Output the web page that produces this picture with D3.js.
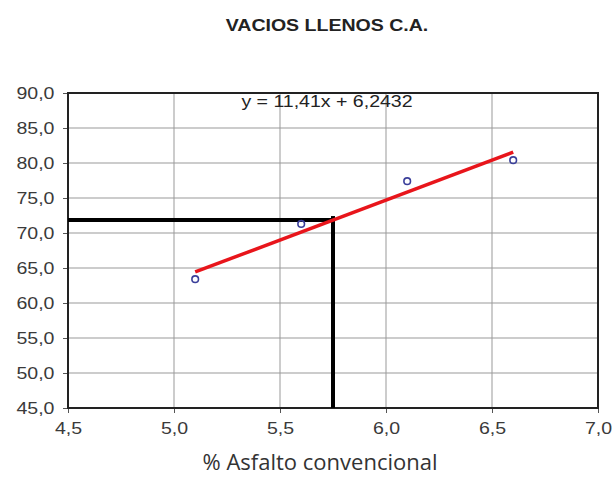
<!DOCTYPE html>
<html><head><meta charset="utf-8">
<script src="https://cdn.jsdelivr.net/npm/d3@7"></script>
<style>body{margin:0;background:#fff}
.sx{transform-box:fill-box;transform-origin:center;transform:scaleX(1.15)}
</style>
</head><body>
<svg id="c" width="615" height="478"></svg>
<script>
const xValues = [5.1, 5.6, 6.1, 6.6];
const yValues = [63.4, 71.3, 77.4, 80.4];
const slope = 11.41, intercept = 6.2432;
const targetX = 5.75;
const xTicks = [4.5, 5.0, 5.5, 6.0, 6.5, 7.0];
const yTicks = [45, 50, 55, 60, 65, 70, 75, 80, 85, 90];
const title = "VACIOS LLENOS C.A.";
const xTitle = "% Asfalto convencional";
const eqLabel = "y = 11,41x + 6,2432";

const svg = d3.select("#c");
const m = {l:68, r:598, t:93, b:408};
const x = d3.scaleLinear().domain([4.5, 7.0]).range([m.l, m.r]);
const y = d3.scaleLinear().domain([45, 90]).range([m.b, m.t]);
const fmt = v => d3.format(".1f")(v).replace(".", ",");
const FONT = "Liberation Sans, Arial, sans-serif";

// grid
svg.append("g").selectAll("line").data(yTicks).join("line")
  .attr("x1", m.l).attr("x2", m.r).attr("y1", d=>y(d)).attr("y2", d=>y(d))
  .attr("stroke", "#999").attr("stroke-width", 1);
svg.append("g").selectAll("line").data(xTicks).join("line")
  .attr("y1", m.t).attr("y2", m.b).attr("x1", d=>x(d)).attr("x2", d=>x(d))
  .attr("stroke", "#999").attr("stroke-width", 1);

// axes
const xa = svg.append("g").attr("transform", `translate(0,${m.b})`)
  .call(d3.axisBottom(x).tickValues(xTicks).tickFormat(fmt).tickSize(5).tickPadding(9));
const ya = svg.append("g").attr("transform", `translate(${m.l},0)`)
  .call(d3.axisLeft(y).tickValues(yTicks).tickFormat(fmt).tickSize(5).tickPadding(11));
[xa, ya].forEach(a => {
  a.select(".domain").remove();
  a.selectAll("text").attr("font-family", FONT)
    .attr("font-size", 17).attr("fill", "#3a3a3a").attr("class", "sx");
  a.selectAll("line").attr("stroke", "#555");
});
ya.selectAll("text").attr("dy", "0.35em");

// border
svg.append("rect").attr("x", m.l).attr("y", m.t).attr("width", m.r-m.l).attr("height", m.b-m.t)
  .attr("fill", "none").attr("stroke", "#222").attr("stroke-width", 2);

// target lines
const ty = slope*targetX + intercept;
svg.append("line").attr("x1", x(4.5)).attr("x2", x(targetX)).attr("y1", y(ty)).attr("y2", y(ty))
  .attr("stroke", "#000").attr("stroke-width", 4);
svg.append("line").attr("x1", x(targetX)).attr("x2", x(targetX)).attr("y1", y(ty)-4).attr("y2", y(45))
  .attr("stroke", "#000").attr("stroke-width", 4);

// regression line
const xr = d3.extent(xValues);
svg.append("line")
  .attr("x1", x(xr[0])).attr("y1", y(slope*xr[0]+intercept))
  .attr("x2", x(xr[1])).attr("y2", y(slope*xr[1]+intercept))
  .attr("stroke", "#e8151b").attr("stroke-width", 3.5);

// points
svg.append("g").selectAll("circle").data(xValues).join("circle")
  .attr("cx", d=>x(d)).attr("cy", (d,i)=>y(yValues[i])).attr("r", 3.3)
  .attr("fill", "none").attr("stroke", "#3b3f9a").attr("stroke-width", 1.6);

// texts
svg.append("text").attr("x", 327).attr("y", 107).attr("text-anchor", "middle").attr("class", "sx")
  .attr("font-family", FONT).attr("font-size", 17).attr("fill", "#222")
  .text(eqLabel);
svg.append("text").attr("x", 327).attr("y", 31).attr("text-anchor", "middle").attr("class", "sx")
  .attr("font-family", FONT).attr("font-size", 17).attr("font-weight", "bold")
  .attr("fill", "#222").text(title);
svg.append("text").attr("x", 320).attr("y", 470).attr("text-anchor", "middle")
  .attr("font-family", "Open Sans, Noto Sans, sans-serif").attr("font-size", 22).attr("fill", "#333")
  .text(xTitle);
</script>
</body></html>
